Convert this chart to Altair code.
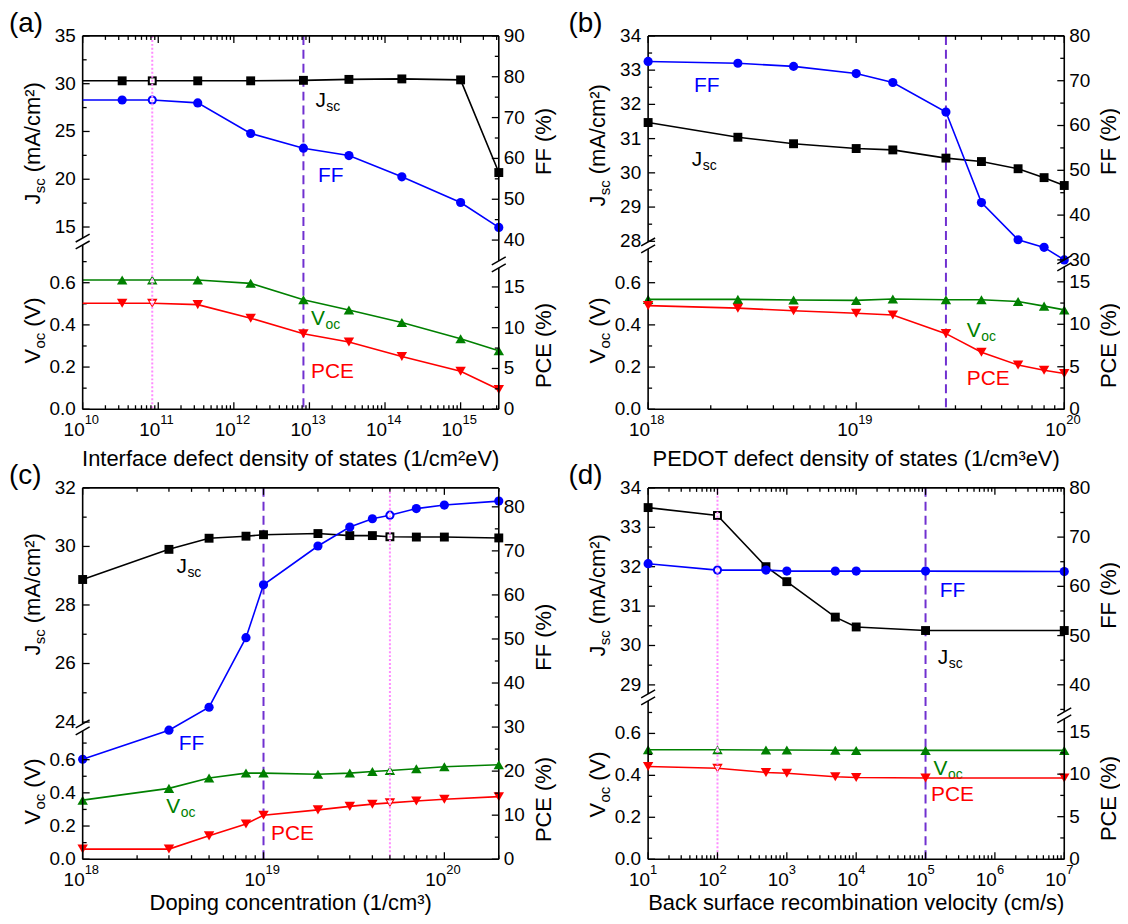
import altair as alt
import pandas as pd

FONT = "Liberation Sans"
W = 418
PURPLE = "#7030D0"
PINK = "#FF8CFF"
BLUE = "#0000FF"
GREEN = "#008000"
RED = "#FF0000"

# ---------------- data ----------------
# (a) interface defect density of states  (first row = line start at the left frame, no marker)
a_x   = [1e10, 3.33e10, 8.33e10, 3.33e11, 1.67e12, 8.33e12, 3.33e13, 1.67e14, 1.0e15, 3.2e15]
a_jsc = [30.3, 30.3, 30.3, 30.3, 30.3, 30.35, 30.45, 30.5, 30.4, 20.7]
a_ff  = [74.3, 74.3, 74.3, 73.6, 66.1, 62.5, 60.7, 55.5, 49.2, 43.1]
a_voc = [0.613, 0.613, 0.613, 0.613, 0.597, 0.519, 0.471, 0.411, 0.334, 0.277]
a_pce = [13.0, 13.0, 13.0, 12.83, 11.17, 9.25, 8.25, 6.46, 4.67, 2.42]
a_mark = [False, True, True, True, True, True, True, True, True, True]

# (b) PEDOT defect density of states
b_x   = [1e18, 2.7e18, 5e18, 1e19, 1.5e19, 2.7e19, 4e19, 6e19, 8e19, 1e20]
b_jsc = [31.47, 31.04, 30.85, 30.71, 30.67, 30.43, 30.33, 30.12, 29.86, 29.63]
b_ff  = [74.3, 73.9, 73.2, 71.6, 69.6, 63.0, 42.8, 34.5, 32.8, 30.0]
b_voc = [0.521, 0.521, 0.518, 0.516, 0.523, 0.519, 0.519, 0.511, 0.489, 0.471]
b_pce = [12.2, 11.9, 11.6, 11.3, 11.1, 8.9, 6.7, 5.2, 4.6, 4.2]

# (c) doping concentration
c_x   = [1e18, 3e18, 5e18, 8e18, 1e19, 2e19, 3e19, 4e19, 5e19, 7e19, 1e20, 2e20]
c_jsc = [28.87, 29.90, 30.28, 30.35, 30.40, 30.44, 30.37, 30.37, 30.33, 30.32, 30.32, 30.29]
c_ff  = [22.7, 29.3, 34.5, 50.3, 62.3, 71.1, 75.4, 77.3, 78.1, 79.6, 80.4, 81.3]
c_voc = [0.356, 0.427, 0.490, 0.519, 0.519, 0.512, 0.519, 0.529, 0.535, 0.545, 0.557, 0.569]
c_pce = [2.3, 2.3, 5.3, 8.0, 10.0, 11.2, 12.0, 12.5, 12.8, 13.2, 13.6, 14.2]

# (d) back surface recombination velocity
d_x   = [10, 100, 500, 1000, 5000, 1e4, 1e5, 1e7]
d_jsc = [33.5, 33.3, 32.0, 31.62, 30.72, 30.47, 30.38, 30.38]
d_ff  = [64.6, 63.3, 63.3, 63.1, 63.1, 63.1, 63.1, 63.0]
d_voc = [0.522, 0.522, 0.521, 0.521, 0.520, 0.519, 0.519, 0.519]
d_pce = [10.9, 10.7, 10.2, 10.1, 9.7, 9.6, 9.55, 9.55]

# ---------------- helpers ----------------
AW = {' ': 278, '(': 333, ')': 333, '/': 278, '%': 889, '\u00b2': 333, '\u00b3': 333,
      'A': 667, 'B': 667, 'C': 722, 'D': 722, 'E': 667, 'F': 611, 'I': 278, 'J': 500,
      'O': 778, 'P': 667, 'T': 611, 'V': 667, 'a': 556, 'b': 556, 'c': 500, 'd': 556,
      'e': 556, 'f': 278, 'g': 556, 'h': 556, 'i': 222, 'k': 500, 'l': 222, 'm': 833,
      'n': 556, 'o': 556, 'p': 556, 'r': 333, 's': 500, 't': 278, 'u': 556, 'v': 500, 'y': 500}


def tw(s, size):
    return sum(AW.get(c, 556) for c in s) / 1000.0 * size


ONE = pd.DataFrame({"k": [0]})


def seg(x1, y1, x2, y2, width=1.6, color="black"):
    return alt.Chart(ONE).mark_rule(color=color, strokeWidth=width).encode(
        x=alt.value(x1), y=alt.value(y1), x2=alt.value(x2), y2=alt.value(y2))


def txt(x, y, s, size, align="left", baseline="middle", angle=0, dx=0.0, dy=0.0, color="black"):
    kw = dict(text=s, font=FONT, fontSize=size, align=align, baseline=baseline, color=color, dx=dx, dy=dy)
    if angle:
        kw["angle"] = angle
    return alt.Chart(ONE).mark_text(**kw).encode(x=alt.value(x), y=alt.value(y))


def rot_title(x, yc, pieces):
    # pieces: (text, font size, baseline shift, gap before)
    total = sum(tw(t, s) + gp for t, s, _, gp in pieces)
    y0 = yc + total / 2.0
    out, off = [], 0.0
    for t, s, d, gp in pieces:
        off += gp
        out.append(txt(x, y0, t, s, align="left", baseline="alphabetic", angle=270, dx=off, dy=d))
        off += tw(t, s)
    return out


def log_ticks(lo, hi):
    major, minor = [], []
    n = -3
    while 10.0 ** n <= hi * 1.0001:
        for k in range(1, 10):
            v = k * 10.0 ** n
            if lo * 0.9999 <= v <= hi * 1.0001:
                (major if k == 1 else minor).append(v)
        n += 1
    return major, minor


def group_layer(df, X, g, hi, ox, oy, Wp):
    ys = alt.Scale(domain=g["dom"], range=[oy + g["rng"][0], oy + g["rng"][1]], nice=False, zero=False)
    ch = []
    for col, color, shape, size in g["series"]:
        ch.append(alt.Chart(df).mark_line(color=color, strokeWidth=1.6).encode(
            x=X, y=alt.Y(f"{col}:Q", scale=ys, axis=None)))
    pts = df[df.mk]
    for col, color, shape, size in g["series"]:
        ch.append(alt.Chart(pts).mark_point(shape=shape, filled=True, size=size, color=color,
                                            opacity=1).encode(
            x=X, y=alt.Y(f"{col}:Q", scale=ys, axis=None)))
        if hi is not None:
            ch.append(alt.Chart(pts[pts.x == hi]).mark_point(shape=shape, filled=True, size=size * 0.3,
                                                             color="white", opacity=1).encode(
                x=X, y=alt.Y(f"{col}:Q", scale=ys, axis=None)))
    left = g["orient"] == "left"
    xa = ox if left else ox + Wp
    sg = 1 if left else -1
    ch.append(seg(xa, oy + g["rng"][1], xa, oy + g["rng"][0]))
    for vals, ln in ((g["major"], 7), (g["minor"], 4)):
        tdf = pd.DataFrame({"v": vals})
        ch.append(alt.Chart(tdf).mark_rule(color="black", strokeWidth=1.3).encode(
            y=alt.Y("v:Q", scale=ys, axis=None), x=alt.value(xa), x2=alt.value(xa + sg * ln)))
    tl = pd.DataFrame({"v": g["major"]})
    ch.append(alt.Chart(tl).mark_text(font=FONT, fontSize=19, color="black",
                                      align="right" if left else "left", baseline="middle").encode(
        x=alt.value(xa - 7 if left else xa + 5), y=alt.Y("v:Q", scale=ys, axis=None),
        text=alt.Text("v:Q", format=g["fmt"])))
    for lx, ly, main, sub, color in g["labels"]:
        ldf = pd.DataFrame({"x": [lx], "y": [ly]})
        enc = dict(x=X, y=alt.Y("y:Q", scale=ys, axis=None))
        ch.append(alt.Chart(ldf).mark_text(text=main, font=FONT, fontSize=21, align="left",
                                           baseline="middle", color=color).encode(**enc))
        if sub:
            ch.append(alt.Chart(ldf).mark_text(text=sub, font=FONT, fontSize=14, align="left",
                                               baseline="middle", color=color,
                                               dx=tw(main, 21) + 0.5, dy=6).encode(**enc))
    return alt.layer(*ch)


def build_panel(sp):
    ox, oy, Wp, H = sp["ox"], sp["oy"], sp["W"], sp["H"]
    xs = alt.Scale(type="log", domain=sp["xdom"], range=[ox, ox + Wp], nice=False)
    X = alt.X("x:Q", scale=xs, axis=None)
    df = sp["df"]
    L = []
    L.append(alt.Chart(pd.DataFrame({"x": [sp["purple"]]})).mark_rule(
        color=PURPLE, strokeWidth=2, strokeDash=[9, 5]).encode(x=X, y=alt.value(oy), y2=alt.value(oy + H)))
    for g in sp["groups"]:
        L.append(group_layer(df, X, g, sp["hi"], ox, oy, Wp))
    if sp["hi"] is not None:
        L.append(alt.Chart(pd.DataFrame({"x": [sp["hi"]]})).mark_rule(
            color=PINK, strokeWidth=2, strokeDash=[2, 2]).encode(x=X, y=alt.value(oy), y2=alt.value(oy + H)))
    L.append(seg(ox, oy, ox + Wp, oy))
    L.append(seg(ox, oy + H, ox + Wp, oy + H))
    major, minor = log_ticks(*sp["xdom"])
    for vals, ln in ((major, 7), (minor, 4)):
        tdf = pd.DataFrame({"x": vals})
        L.append(alt.Chart(tdf).mark_rule(color="black", strokeWidth=1.3).encode(
            x=X, y=alt.value(oy + H), y2=alt.value(oy + H - ln)))
        L.append(alt.Chart(tdf).mark_rule(color="black", strokeWidth=1.3).encode(
            x=X, y=alt.value(oy), y2=alt.value(oy + ln)))
    ldf = pd.DataFrame({"x": sp["dec"], "e": sp["exp"]})
    L.append(alt.Chart(ldf).mark_text(text="10", font=FONT, fontSize=19, align="right",
                                      baseline="middle", dx=2, color="black").encode(
        x=X, y=alt.value(oy + H + 21)))
    L.append(alt.Chart(ldf).mark_text(font=FONT, fontSize=13, align="left", baseline="middle",
                                      dx=2, color="black").encode(
        x=X, y=alt.value(oy + H + 11), text="e:N"))
    for xa, gaps in ((ox, sp["lgap"]), (ox + Wp, sp["rgap"])):
        if gaps:
            for yb in gaps:
                L.append(seg(xa - 7, oy + yb + 4, xa + 7, oy + yb - 4, width=1.5))
    L.append(txt(ox + Wp / 2, oy + H + sp["xt_off"], sp["xtitle"], 22, align="center"))
    L.append(txt(ox + sp["tag_x"], oy - 12, sp["tag"], 28, align="left"))
    for yc, pieces in sp["ltitles"]:
        L += rot_title(ox - 43, oy + yc, pieces)
    for yc, s in sp["rtitles"]:
        L += rot_title(ox + Wp + 52, oy + yc, [(s, 22, 0, 0)])
    return alt.layer(*L).resolve_scale(y="independent")


def frame(x, jsc, ff, voc, pce, mk=None):
    return pd.DataFrame({"x": x, "jsc": jsc, "ff": ff, "voc": voc, "pce": pce,
                         "mk": mk if mk is not None else [True] * len(x)})


SQ = ("jsc", "black", "square", 80)
CI = ("ff", BLUE, "circle", 85)
TU = ("voc", GREEN, "triangle-up", 110)
TD = ("pce", RED, "triangle-down", 110)

VOC_MAJ = [0.0, 0.2, 0.4, 0.6]
VOC_MIN = [0.1, 0.3, 0.5, 0.7]

JSC_T = [("J", 22, 0, 0), ("sc", 15, 5, 0.5), ("(mA/cm\u00b2)", 22, 0, 6)]
VOC_T = [("V", 22, 0, 0), ("oc", 15, 5, 0.5), ("(V)", 22, 0, 6)]

H1, H2 = 375, 373
X1, X2 = 75, 75 + W + 150
Y1, Y2 = 24, 24 + H1 + 79

pa = dict(ox=X1, oy=Y1, W=W, H=H1, xdom=[1e10, 3.2e15],
          df=frame(a_x, a_jsc, a_ff, a_voc, a_pce, a_mark),
          purple=8.33e12, hi=8.33e10,
          dec=[1e10, 1e11, 1e12, 1e13, 1e14, 1e15], exp=["10", "11", "12", "13", "14", "15"],
          lgap=[203, 210], rgap=[226, 233], xt_off=50,
          xtitle="Interface defect density of states (1/cm\u00b2eV)", tag="(a)", tag_x=-74,
          ltitles=[(108, JSC_T), (296, VOC_T)], rtitles=[(106, "FF (%)"), (311, "PCE (%)")],
          groups=[
              dict(dom=[13.85, 35], rng=[203, 0], orient="left", major=[15, 20, 25, 30, 35],
                   minor=[17.5, 22.5, 27.5, 32.5], fmt="d", series=[SQ],
                   labels=[(1.2e13, 28.2, "J", "sc", "black")]),
              dict(dom=[34.9, 90], rng=[226, 0], orient="right", major=[40, 50, 60, 70, 80, 90],
                   minor=[45, 55, 65, 75, 85], fmt="d", series=[CI],
                   labels=[(1.3e13, 55.7, "FF", "", BLUE)]),
              dict(dom=[0, 0.779], rng=[H1, 210], orient="left", major=VOC_MAJ, minor=VOC_MIN,
                   fmt=".1f", series=[TU], labels=[(1.05e13, 0.43, "V", "oc", GREEN)]),
              dict(dom=[0, 17.34], rng=[H1, 233], orient="right", major=[0, 5, 10, 15],
                   minor=[2.5, 7.5, 12.5], fmt="d", series=[TD],
                   labels=[(1.05e13, 4.6, "PCE", "", RED)]),
          ])

pb = dict(ox=X2, oy=Y1, W=W, H=H1, xdom=[1e18, 1e20], df=frame(b_x, b_jsc, b_ff, b_voc, b_pce),
          purple=2.7e19, hi=None,
          dec=[1e18, 1e19, 1e20], exp=["18", "19", "20"],
          lgap=[207, 214], rgap=[225, 232], xt_off=50,
          xtitle="PEDOT defect density of states (1/cm\u00b3eV)", tag="(b)", tag_x=-80,
          ltitles=[(110, JSC_T), (296, VOC_T)], rtitles=[(106, "FF (%)"), (311, "PCE (%)")],
          groups=[
              dict(dom=[27.98, 34], rng=[207, 0], orient="left", major=[28, 29, 30, 31, 32, 33, 34],
                   minor=[28.5, 29.5, 30.5, 31.5, 32.5, 33.5], fmt="d", series=[SQ],
                   labels=[(1.62e18, 30.38, "J", "sc", "black")]),
              dict(dom=[30, 80], rng=[225, 0], orient="right", major=[30, 40, 50, 60, 70, 80],
                   minor=[35, 45, 55, 65, 75], fmt="d", series=[CI],
                   labels=[(1.66e18, 68.8, "FF", "", BLUE)]),
              dict(dom=[0, 0.76], rng=[H1, 214], orient="left", major=VOC_MAJ, minor=VOC_MIN,
                   fmt=".1f", series=[TU], labels=[(3.4e19, 0.37, "V", "oc", GREEN)]),
              dict(dom=[0, 16.76], rng=[H1, 232], orient="right", major=[0, 5, 10, 15],
                   minor=[2.5, 7.5, 12.5], fmt="d", series=[TD],
                   labels=[(3.4e19, 3.6, "PCE", "", RED)]),
          ])

pc = dict(ox=X1, oy=Y2, W=W, H=H2, xdom=[1e18, 2e20], df=frame(c_x, c_jsc, c_ff, c_voc, c_pce),
          purple=1e19, hi=5e19,
          dec=[1e18, 1e19, 1e20], exp=["18", "19", "20"],
          lgap=[237, 244], rgap=None, xt_off=44,
          xtitle="Doping concentration (1/cm\u00b3)", tag="(c)", tag_x=-74,
          ltitles=[(107, JSC_T), (305, VOC_T)], rtitles=[(150, "FF (%)"), (313, "PCE (%)")],
          groups=[
              dict(dom=[23.94, 32], rng=[237, 0], orient="left", major=[24, 26, 28, 30, 32],
                   minor=[25, 27, 29, 31], fmt="d", series=[SQ],
                   labels=[(3.3e18, 29.3, "J", "sc", "black")]),
              dict(dom=[0, 84.3], rng=[H2, 0], orient="right",
                   major=[0, 10, 20, 30, 40, 50, 60, 70, 80],
                   minor=[5, 15, 25, 35, 45, 55, 65, 75], fmt="d", series=[CI, TD],
                   labels=[(3.4e18, 26.2, "FF", "", BLUE), (1.1e19, 5.8, "PCE", "", RED)]),
              dict(dom=[0, 0.774], rng=[H2, 244], orient="left", major=VOC_MAJ, minor=VOC_MIN,
                   fmt=".1f", series=[TU], labels=[(2.9e18, 0.315, "V", "oc", GREEN)]),
          ])

pd_ = dict(ox=X2, oy=Y2, W=W, H=H2, xdom=[10, 1e7], df=frame(d_x, d_jsc, d_ff, d_voc, d_pce),
           purple=1e5, hi=100,
           dec=[10, 100, 1e3, 1e4, 1e5, 1e6, 1e7], exp=["1", "2", "3", "4", "5", "6", "7"],
           lgap=[207, 214], rgap=[225, 232], xt_off=44,
           xtitle="Back surface recombination velocity (cm/s)", tag="(d)", tag_x=-80,
           ltitles=[(108, JSC_T), (298, VOC_T)], rtitles=[(108, "FF (%)"), (312, "PCE (%)")],
           groups=[
               dict(dom=[28.77, 34], rng=[207, 0], orient="left", major=[29, 30, 31, 32, 33, 34],
                    minor=[29.5, 30.5, 31.5, 32.5, 33.5], fmt="d", series=[SQ],
                    labels=[(1.5e5, 29.67, "J", "sc", "black")]),
               dict(dom=[34.5, 80], rng=[225, 0], orient="right", major=[40, 50, 60, 70, 80],
                    minor=[35, 45, 55, 65, 75], fmt="d", series=[CI],
                    labels=[(1.6e5, 59.0, "FF", "", BLUE)]),
               dict(dom=[0, 0.755], rng=[H2, 214], orient="left", major=VOC_MAJ, minor=VOC_MIN,
                    fmt=".1f", series=[TU], labels=[(1.3e5, 0.43, "V", "oc", GREEN)]),
               dict(dom=[0, 16.5], rng=[H2, 232], orient="right", major=[0, 5, 10, 15],
                    minor=[2.5, 7.5, 12.5], fmt="d", series=[TD],
                    labels=[(1.2e5, 7.6, "PCE", "", RED)]),
           ])

chart = alt.layer(build_panel(pa), build_panel(pb), build_panel(pc), build_panel(pd_)).resolve_scale(
    x="independent", y="independent").properties(
    width=1112, height=903, padding=0,
    view=alt.ViewBackground(stroke=None, strokeWidth=0, strokeOpacity=0))
chart = chart.configure(font=FONT).configure_view(stroke=None, strokeWidth=0, strokeOpacity=0)

chart.save("out.html", embed_options={"renderer": "svg", "actions": False})
